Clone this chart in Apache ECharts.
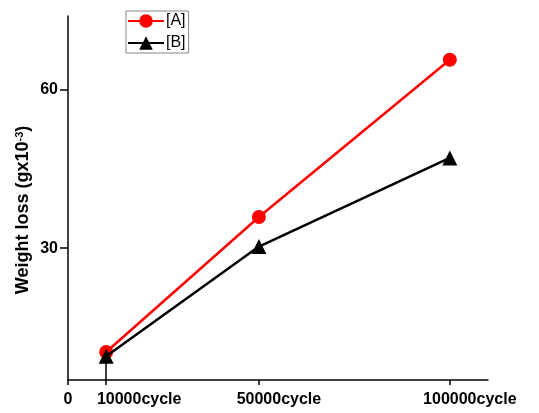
<!DOCTYPE html>
<html>
<head>
<meta charset="utf-8">
<script src="https://cdn.jsdelivr.net/npm/echarts@6/dist/echarts.min.js"></script>
<style>
  html, body { margin: 0; padding: 0; background: #fff; }
  #myChart { width: 539px; height: 413px; }
</style>
</head>
<body>
<div id="myChart"></div>
<script>
  // data
  var cycles = [10000, 50000, 100000];
  var seriesA = [10.3, 35.9, 65.7];
  var seriesB = [9.5, 30.3, 47.1];
  var xTicks = [0, 10000, 50000, 100000];
  var xLabels = [10000, 50000, 100000];
  var yTicks = [30, 60];

  var sans = "'Liberation Sans', Arial, sans-serif";

  function pairs(xs, ys) {
    return xs.map(function (x, i) { return [x, ys[i]]; });
  }

  var myChart = echarts.init(document.getElementById('myChart'));
  var option = {
    animation: false,
    backgroundColor: '#fff',
    grid: { left: 68, right: 51, top: 16, bottom: 33 },
    legend: {
      orient: 'vertical',
      left: 126,
      top: 11,
      padding: [2, 3, 2, 1],
      itemGap: 6,
      itemWidth: 36,
      itemHeight: 17,
      borderColor: '#888',
      borderWidth: 1,
      textStyle: { fontSize: 16, color: '#000', fontFamily: sans, padding: [0, 0, 0, -3] },
      data: ['[A]', '[B]']
    },
    xAxis: [
      {
        type: 'value',
        min: 0,
        max: 110000,
        splitLine: { show: false },
        axisLine: { lineStyle: { color: '#000', width: 1.5 } },
        axisTick: { customValues: xTicks, length: 5, lineStyle: { color: '#000', width: 1.5 } },
        axisLabel: {
          customValues: xLabels,
          showMinLabel: true,
          showMaxLabel: true,
          hideOverlap: false,
          margin: 12,
          color: '#000',
          formatter: function (v) {
            if (v === cycles[0]) return '{sp2|}{n|' + v + '}{c|cycle}';
            return '{sp|}{n|' + v + '}{c|cycle}';
          },
          rich: {
            sp: { width: 40 },
            sp2: { width: 66 },
            n: { fontSize: 16, fontWeight: 'bold', fontFamily: sans, color: '#000' },
            c: { fontSize: 16, fontWeight: 'bold', fontFamily: sans, color: '#000' }
          }
        }
      },
      {
        // second axis only carries the "0" label
        type: 'value',
        position: 'bottom',
        min: 0,
        max: 110000,
        splitLine: { show: false },
        axisLine: { show: false },
        axisTick: { show: false },
        axisLabel: {
          customValues: [0],
          showMinLabel: true,
          margin: 12,
          fontSize: 16,
          fontWeight: 'bold',
          fontFamily: sans,
          color: '#000'
        }
      }
    ],
    yAxis: {
      type: 'value',
      min: 5,
      max: 74,
      splitLine: { show: false },
      axisLine: { show: true, lineStyle: { color: '#000', width: 1.5 } },
      axisTick: { show: true, customValues: yTicks, length: 8, lineStyle: { color: '#000', width: 1.5 } },
      axisLabel: {
        customValues: yTicks,
        margin: 10,
        fontSize: 16,
        fontWeight: 'bold',
        fontFamily: sans,
        color: '#000'
      },
      name: '{t|Weight loss (gx10}{s|-3}{t|)}',
      nameLocation: 'middle',
      nameGap: 35,
      nameMoveOverlap: false,
      nameRotate: 90,
      nameTextStyle: {
        padding: [0, 24, 0, 0],
        rich: {
          t: { fontSize: 18, fontWeight: 'bold', fontFamily: sans, color: '#000' },
          s: { fontSize: 11, fontWeight: 'bold', fontFamily: sans, color: '#000', verticalAlign: 'top', padding: [0, 0, 8, 0] }
        }
      }
    },
    series: [
      {
        name: '[A]',
        type: 'line',
        data: pairs(cycles, seriesA),
        symbol: 'circle',
        symbolSize: 14,
        itemStyle: { color: '#ff0000' },
        lineStyle: { color: '#ff0000', width: 2.5 },
        z: 3
      },
      {
        name: '[B]',
        type: 'line',
        data: pairs(cycles, seriesB),
        symbol: 'triangle',
        symbolSize: 15,
        itemStyle: { color: '#000' },
        lineStyle: { color: '#000', width: 2.5 },
        z: 4,
        markLine: {
          silent: true,
          symbol: 'none',
          label: { show: false },
          lineStyle: { color: '#000', width: 1.5, type: 'solid' },
          data: [[{ coord: [cycles[0], seriesB[0]] }, { coord: [cycles[0], 5] }]]
        }
      }
    ]
  };
  myChart.setOption(option, true);
</script>
</body>
</html>
